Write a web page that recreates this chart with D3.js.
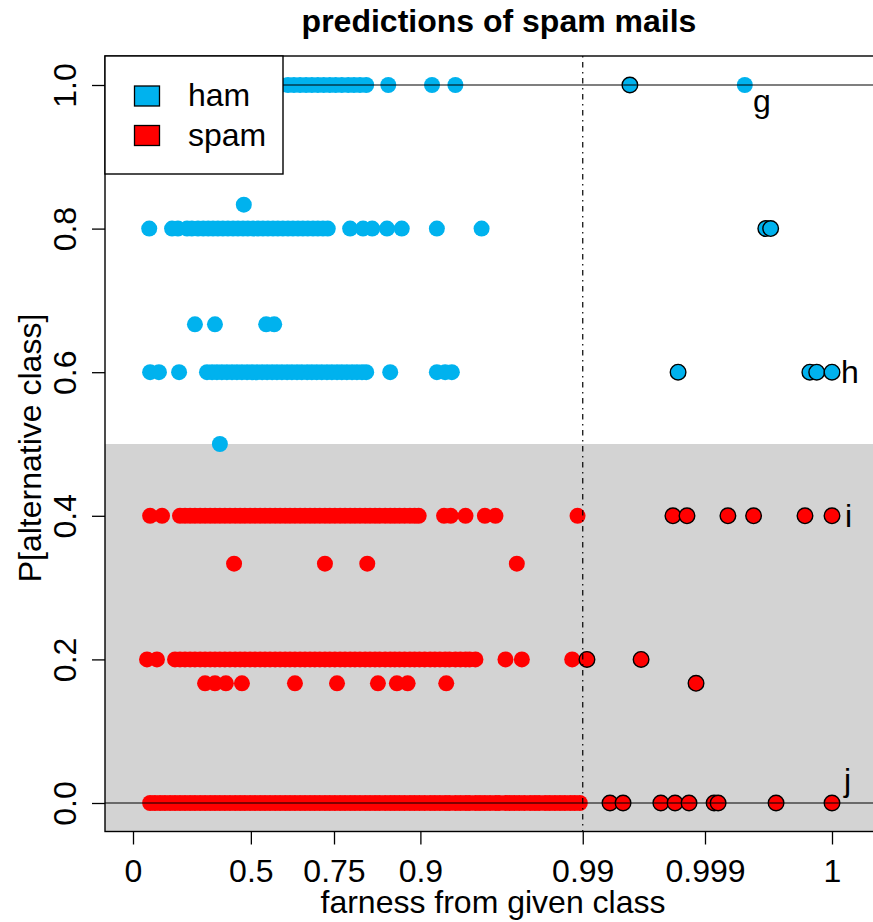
<!DOCTYPE html>
<html><head><meta charset="utf-8">
<script src="https://cdn.jsdelivr.net/npm/d3@7"></script>
<style>
body{margin:0;background:#fff}
svg{display:block;font-family:"Liberation Sans",Arial,Helvetica,sans-serif}
</style>
</head><body>
<svg id="c" width="873" height="922"></svg>
<script>
// ---------------- DATA (farness values; P[alternative class] per row) ----------------
const classes = ["ham", "spam"];
const classColors = ["#00B2EE", "#FF0000"];
const xTickValues = [0, 0.5, 0.75, 0.9, 0.99, 0.999, 1];
const xTickLabels = ["0", "0.5", "0.75", "0.9", "0.99", "0.999", "1"];
const yTickValues = [0, 0.2, 0.4, 0.6, 0.8, 1.0];
const yTickLabels = ["0.0", "0.2", "0.4", "0.6", "0.8", "1.0"];

// ham, P = 1.0
const ham_100 = [0.078,0.123,0.168,0.212,0.256,0.299,0.341,0.381,0.421,0.460,0.497,0.533,0.567,0.600,0.625,0.643,0.661,0.678,0.694,0.710,0.725,0.740,0.754,0.768,0.782,0.794,0.806,0.818,0.856,0.913,0.935,0.9996];
const ham_100_far = [0.9956];
// ham, P = 0.833
const ham_083 = [0.474];
// ham, P = 0.8
const ham_080 = [0.074,0.177,0.203,0.243,0.264,0.290,0.312,0.333,0.353,0.373,0.393,0.413,0.433,0.452,0.471,0.489,0.508,0.526,0.543,0.560,0.577,0.593,0.609,0.625,0.640,0.655,0.669,0.683,0.697,0.710,0.723,0.735,0.786,0.812,0.829,0.854,0.876,0.918,0.954];
const ham_080_far = [0.99977,0.99980];
// ham, P = 0.667
const ham_067 = [0.277,0.361,0.554,0.581];
// ham, P = 0.6
const ham_060 = [0.078,0.118,0.208,0.328,0.349,0.369,0.389,0.409,0.429,0.448,0.467,0.486,0.504,0.522,0.540,0.557,0.574,0.590,0.606,0.622,0.637,0.652,0.666,0.681,0.694,0.707,0.720,0.733,0.745,0.757,0.768,0.779,0.790,0.800,0.810,0.818,0.859,0.918,0.926,0.932];
const ham_060_far = [0.99825,0.999956,0.999972,1];
// ham, P = 0.5
const ham_050 = [0.381];

// spam, P = 0.4
const spam_040 = [0.078,0.132,0.212,0.234,0.256,0.277,0.299,0.320,0.341,0.361,0.381,0.401,0.421,0.441,0.460,0.478,0.497,0.515,0.533,0.550,0.567,0.584,0.600,0.616,0.631,0.646,0.661,0.675,0.689,0.702,0.715,0.728,0.740,0.752,0.764,0.775,0.786,0.796,0.806,0.816,0.825,0.834,0.842,0.851,0.859,0.866,0.873,0.880,0.887,0.893,0.898,0.925,0.931,0.943,0.956,0.962,0.9891];
const spam_040_far = [0.99806,0.99854,0.99940,0.99968,0.999943,1];
// spam, P = 0.333
const spam_033 = [0.437,0.728,0.820,0.972];
// spam, P = 0.2
const spam_020 = [0.064,0.109,0.190,0.212,0.234,0.256,0.277,0.299,0.320,0.341,0.361,0.381,0.401,0.421,0.441,0.460,0.478,0.497,0.515,0.533,0.550,0.567,0.584,0.600,0.616,0.631,0.646,0.661,0.675,0.689,0.702,0.715,0.728,0.740,0.752,0.764,0.775,0.786,0.796,0.806,0.816,0.825,0.834,0.842,0.851,0.859,0.866,0.873,0.880,0.887,0.893,0.899,0.905,0.911,0.916,0.921,0.926,0.930,0.935,0.939,0.943,0.946,0.950,0.967,0.974,0.9881];
const spam_020_far = [0.99068,0.99642];
// spam, P = 0.167
const spam_017 = [0.320,0.361,0.405,0.467,0.646,0.757,0.839,0.869,0.884,0.927];
const spam_017_far = [0.99879];
// spam, P = 0.0
const spam_000 = [0.078,0.100,0.123,0.145,0.168,0.190,0.212,0.234,0.256,0.277,0.299,0.320,0.341,0.361,0.381,0.401,0.421,0.441,0.460,0.478,0.497,0.515,0.533,0.550,0.567,0.584,0.600,0.616,0.631,0.646,0.661,0.675,0.689,0.702,0.715,0.728,0.740,0.752,0.764,0.775,0.786,0.796,0.806,0.816,0.825,0.834,0.842,0.851,0.859,0.866,0.873,0.880,0.887,0.893,0.899,0.905,0.911,0.916,0.921,0.926,0.930,0.935,0.939,0.943,0.946,0.950,0.953,0.956,0.959,0.962,0.964,0.967,0.969,0.971,0.973,0.975,0.977,0.9786,0.980,0.9817,0.983,0.9843,0.9855,0.9866,0.9877,0.9886,0.9895];
const spam_000_far = [0.99372,0.99502,0.99754,0.99814,0.99860,0.99918,0.99925,0.99983,1];

// point labels: [text, farness, P]
const pointLabels = [["g", 0.9996, 1.0], ["h", 1, 0.6], ["i", 1, 0.4], ["j", 1, 0.0]];

const rows = [
  [0, 1.0, ham_100, ham_100_far],
  [0, 5/6, ham_083, []],
  [0, 0.8, ham_080, ham_080_far],
  [0, 2/3, ham_067, []],
  [0, 0.6, ham_060, ham_060_far],
  [0, 0.5, ham_050, []],
  [1, 0.4, spam_040, spam_040_far],
  [1, 1/3, spam_033, []],
  [1, 0.2, spam_020, spam_020_far],
  [1, 1/6, spam_017, spam_017_far],
  [1, 0.0, spam_000, spam_000_far]
];

// ---------------- helpers ----------------
function qnorm(p){
  const a=[-3.969683028665376e+01,2.209460984245205e+02,-2.759285104469687e+02,1.383577518672690e+02,-3.066479806614716e+01,2.506628277459239e+00];
  const b=[-5.447609879822406e+01,1.615858368580409e+02,-1.556989798598866e+02,6.680131188771972e+01,-1.328068155288572e+01];
  const c=[-7.784894002430293e-03,-3.223964580411365e-01,-2.400758277161838e+00,-2.549732539343734e+00,4.374664141464968e+00,2.938163982698783e+00];
  const d=[7.784695709041462e-03,3.224671290700398e-01,2.445134137142996e+00,3.754408661907416e+00];
  const pl=0.02425, ph=1-pl; let q,r;
  if(p<pl){q=Math.sqrt(-2*Math.log(p));return (((((c[0]*q+c[1])*q+c[2])*q+c[3])*q+c[4])*q+c[5])/((((d[0]*q+d[1])*q+d[2])*q+d[3])*q+1);}
  if(p<=ph){q=p-0.5;r=q*q;return (((((a[0]*r+a[1])*r+a[2])*r+a[3])*r+a[4])*r+a[5])*q/(((((b[0]*r+b[1])*r+b[2])*r+b[3])*r+b[4])*r+1);}
  q=Math.sqrt(-2*Math.log(1-p));return -(((((c[0]*q+c[1])*q+c[2])*q+c[3])*q+c[4])*q+c[5])/((((d[0]*q+d[1])*q+d[2])*q+d[3])*q+1);
}
const PN4 = 0.9999683287581669; // pnorm(4)
const qfunc = f => qnorm(f*(PN4-0.5)+0.5);

// ---------------- layout ----------------
const svg = d3.select("#c");
const plot = {left:105, top:56, right:881, bottom:831.5};
const x = d3.scaleLinear().domain([0,4]).range([133,832]);
const y = d3.scaleLinear().domain([0,1]).range([803,85]);
const X = f => x(qfunc(f));
const FS = 32;

svg.append("rect").attr("width",873).attr("height",922).attr("fill","#fff");

svg.append("defs").append("clipPath").attr("id","clip")
  .append("rect").attr("x",plot.left).attr("y",plot.top)
  .attr("width",plot.right-plot.left).attr("height",plot.bottom-plot.top);

const g = svg.append("g").attr("clip-path","url(#clip)");

// shaded region P < 0.5
g.append("rect").attr("x",plot.left).attr("y",y(0.5))
  .attr("width",plot.right-plot.left).attr("height",plot.bottom-y(0.5))
  .attr("fill","#D3D3D3");

// points
const pts = [];
rows.forEach(([ci,p,reg,far]) => {
  reg.forEach(f => pts.push({ci,p,f,out:false}));
  far.forEach(f => pts.push({ci,p,f,out:true}));
});
g.selectAll("circle.pt").data(pts).join("circle")
  .attr("class","pt")
  .attr("cx",d=>X(d.f)).attr("cy",d=>y(d.p))
  .attr("r",d=>d.out?7.8:8)
  .attr("fill",d=>classColors[d.ci])
  .attr("stroke",d=>d.out?"#000":"none")
  .attr("stroke-width",1.4);

// reference lines
[0,1].forEach(v => g.append("line").attr("x1",plot.left).attr("x2",plot.right)
  .attr("y1",y(v)).attr("y2",y(v)).attr("stroke","#000").attr("stroke-width",1.2));
g.append("line").attr("x1",X(0.99)).attr("x2",X(0.99)).attr("y1",plot.top).attr("y2",plot.bottom)
  .attr("stroke","#000").attr("stroke-width",1.2).attr("stroke-dasharray","1.5,4.5,5.5,4.5");

// box
svg.append("rect").attr("x",plot.left).attr("y",plot.top)
  .attr("width",plot.right-plot.left).attr("height",plot.bottom-plot.top)
  .attr("fill","none").attr("stroke","#000").attr("stroke-width",1.4);

// x axis
const xAxis = svg.append("g").attr("transform",`translate(0,${plot.bottom})`)
  .call(d3.axisBottom(x).tickValues(xTickValues.map(qfunc))
    .tickFormat((d,i)=>xTickLabels[i]).tickSize(13).tickSizeOuter(0));
xAxis.select(".domain").remove();
xAxis.selectAll(".tick line").attr("stroke","#000").attr("stroke-width",1.3);
xAxis.selectAll(".tick text").attr("y",50.5).attr("dy",0)
  .attr("font-size",FS).attr("fill","#000").attr("font-family",null);

// y axis
const yAxis = svg.append("g").attr("transform",`translate(${plot.left},0)`)
  .call(d3.axisLeft(y).tickValues(yTickValues)
    .tickFormat((d,i)=>yTickLabels[i]).tickSize(13).tickSizeOuter(0));
yAxis.select(".domain").remove();
yAxis.selectAll(".tick line").attr("stroke","#000").attr("stroke-width",1.3);
yAxis.selectAll(".tick text").attr("transform","rotate(-90)")
  .attr("x",0).attr("y",-29).attr("dy",0).attr("text-anchor","middle")
  .attr("font-size",FS).attr("fill","#000").attr("font-family",null);

// titles
svg.append("text").attr("x",499).attr("y",32).attr("text-anchor","middle")
  .attr("font-size",FS).attr("font-weight","bold").text("predictions of spam mails");
svg.append("text").attr("x",493).attr("y",913).attr("text-anchor","middle")
  .attr("font-size",FS).text("farness from given class");
svg.append("text").attr("transform","translate(41,448) rotate(-90)").attr("text-anchor","middle")
  .attr("font-size",FS).text("P[alternative class]");

// point labels
const labOff = {g:[17,27,"middle"], h:[9,11,"start"], i:[13,11,"start"], j:[12,-12,"start"]};
pointLabels.forEach(([t,f,p]) => {
  const o = labOff[t];
  svg.append("text").attr("x",X(f)+o[0]).attr("y",y(p)+o[1]).attr("text-anchor",o[2])
    .attr("font-size",FS).text(t);
});

// legend
const lg = svg.append("g");
lg.append("rect").attr("x",plot.left).attr("y",plot.top).attr("width",178).attr("height",118)
  .attr("fill","#fff").attr("stroke","#000").attr("stroke-width",1.4);
classes.forEach((c,i) => {
  const cy = 96 + i*39.5;
  lg.append("rect").attr("x",134.5).attr("y",cy-10).attr("width",25).attr("height",20)
    .attr("fill",classColors[i]).attr("stroke","#000").attr("stroke-width",1.3);
  lg.append("text").attr("x",188).attr("y",cy+10).attr("font-size",FS).text(c);
});
</script>
</body></html>
